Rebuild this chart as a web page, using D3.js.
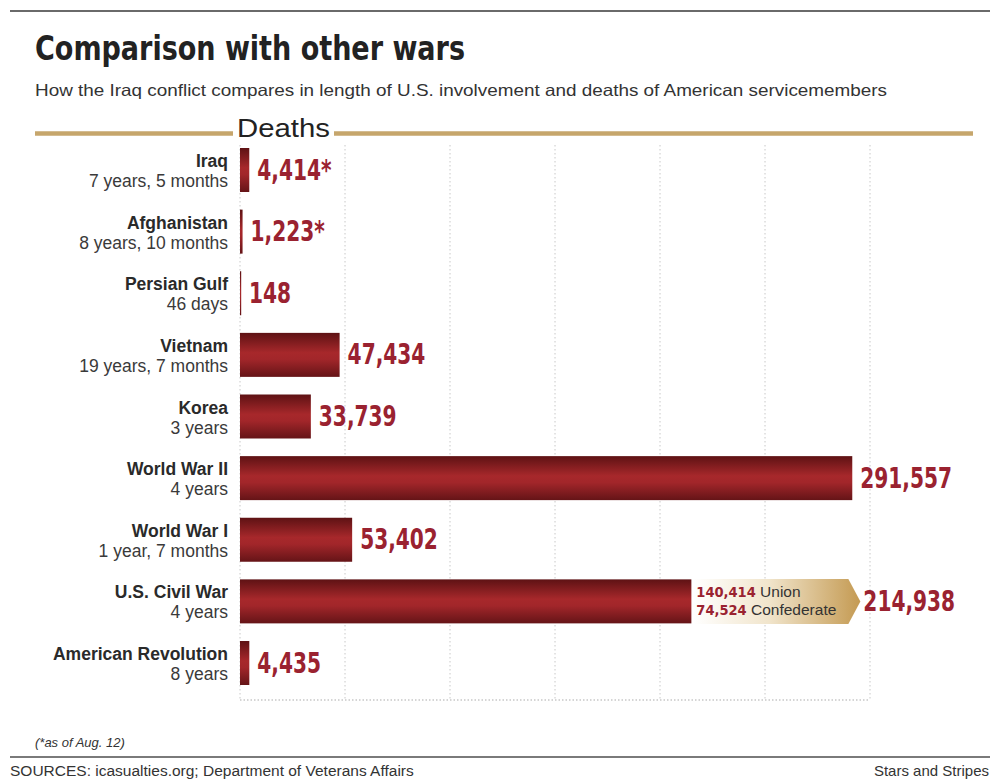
<!DOCTYPE html>
<html>
<head>
<meta charset="utf-8">
<script src="https://cdn.jsdelivr.net/npm/d3@7"></script>
<style>
  body { margin: 0; background: #fff; }
  svg { display: block; }
</style>
</head>
<body>
<svg id="chart" width="990" height="780"></svg>
<script>
const width = 990;
const height = 780;

const wars = ["Iraq", "Afghanistan", "Persian Gulf", "Vietnam", "Korea",
  "World War II", "World War I", "U.S. Civil War", "American Revolution"];
const durations = ["7 years, 5 months", "8 years, 10 months", "46 days", "19 years, 7 months",
  "3 years", "4 years", "1 year, 7 months", "4 years", "8 years"];
const deaths = [4414, 1223, 148, 47434, 33739, 291557, 53402, 214938, 4435];
const ongoing = [true, true, false, false, false, false, false, false, false];
const civilSides = ["Union", "Confederate"];
const civilDeaths = [140414, 74524];
const ticks = [0, 50000, 100000, 150000, 200000, 250000, 300000];

const rows = wars.map((w, i) => ({ war: w, dur: durations[i], deaths: deaths[i], star: ongoing[i] }));

const svg = d3.select("#chart");
const fmt = d3.format(",");
const narrow = "'DejaVu Sans Condensed', 'Liberation Sans Narrow', sans-serif";
const sans = "'Liberation Sans', Arial, sans-serif";
const red = "#9a2230";
const squeeze = 0.8; // horizontal squeeze for the condensed figures

const xScale = d3.scaleLinear().domain([0, 300000]).range([240, 870]);
const yScale = d3.scalePoint().domain(wars).range([170, 663]);
const barH = 44;

// gradients
const defs = svg.append("defs");
const grad = defs.append("linearGradient").attr("id", "barGrad")
  .attr("x1", 0).attr("y1", 0).attr("x2", 0).attr("y2", 1);
grad.append("stop").attr("offset", "0%").attr("stop-color", "#5e1214");
grad.append("stop").attr("offset", "45%").attr("stop-color", "#a7282b");
grad.append("stop").attr("offset", "60%").attr("stop-color", "#a2262a");
grad.append("stop").attr("offset", "100%").attr("stop-color", "#651417");

const gold = defs.append("linearGradient").attr("id", "goldGrad")
  .attr("x1", 0).attr("y1", 0).attr("x2", 1).attr("y2", 0);
gold.append("stop").attr("offset", "0%").attr("stop-color", "#ffffff");
gold.append("stop").attr("offset", "45%").attr("stop-color", "#f1e5cc");
gold.append("stop").attr("offset", "100%").attr("stop-color", "#c49a52");

// frame lines
svg.append("line").attr("x1", 10).attr("x2", 990).attr("y1", 11).attr("y2", 11)
  .attr("stroke", "#6a6a6a").attr("stroke-width", 2);
svg.append("line").attr("x1", 10).attr("x2", 990).attr("y1", 757).attr("y2", 757)
  .attr("stroke", "#7a7a7a").attr("stroke-width", 2);

// Title
svg.append("text").attr("x", 35).attr("y", 60)
  .attr("font-family", narrow).attr("font-weight", "bold").attr("font-size", 33)
  .attr("fill", "#222").attr("textLength", 430).attr("lengthAdjust", "spacingAndGlyphs")
  .text("Comparison with other wars");

svg.append("text").attr("x", 35).attr("y", 96)
  .attr("font-family", sans).attr("font-size", 16.5).attr("fill", "#333")
  .attr("textLength", 852).attr("lengthAdjust", "spacingAndGlyphs")
  .text("How the Iraq conflict compares in length of U.S. involvement and deaths of American servicemembers");

// Deaths header with gold rule
svg.append("line").attr("x1", 35).attr("x2", 233).attr("y1", 133.5).attr("y2", 133.5)
  .attr("stroke", "#c6a66c").attr("stroke-width", 4.5);
svg.append("line").attr("x1", 334).attr("x2", 973).attr("y1", 133.5).attr("y2", 133.5)
  .attr("stroke", "#c6a66c").attr("stroke-width", 4.5);
svg.append("text").attr("x", 237).attr("y", 137)
  .attr("font-family", sans).attr("font-size", 25).attr("fill", "#222")
  .attr("textLength", 93).attr("lengthAdjust", "spacingAndGlyphs")
  .text("Deaths");

// Grid
const grid = svg.append("g").attr("class", "grid");
grid.selectAll("line.v")
  .data(ticks)
  .enter()
  .append("line")
  .attr("class", "v")
  .attr("x1", d => xScale(d)).attr("x2", d => xScale(d))
  .attr("y1", 145).attr("y2", 700)
  .attr("stroke", "#c8c8c8").attr("stroke-width", 1).attr("stroke-dasharray", "1.5,2.5");
grid.append("line")
  .attr("x1", xScale(0)).attr("x2", xScale(300000))
  .attr("y1", 700).attr("y2", 700)
  .attr("stroke", "#c8c8c8").attr("stroke-width", 1.5).attr("stroke-dasharray", "1.5,2");

// Category labels
const labels = svg.append("g");
labels.selectAll("text.name")
  .data(rows)
  .enter()
  .append("text")
  .attr("class", "name")
  .attr("x", 228).attr("y", d => yScale(d.war) - 3)
  .attr("text-anchor", "end")
  .attr("font-family", sans).attr("font-weight", "bold").attr("font-size", 17.5)
  .attr("fill", "#2a2a2a")
  .text(d => d.war);
labels.selectAll("text.dur")
  .data(rows)
  .enter()
  .append("text")
  .attr("class", "dur")
  .attr("x", 228).attr("y", d => yScale(d.war) + 17)
  .attr("text-anchor", "end")
  .attr("font-family", sans).attr("font-size", 17.5)
  .attr("fill", "#3a3a3a")
  .text(d => d.dur);

// Bars
svg.selectAll(".bar")
  .data(rows)
  .enter()
  .append("rect")
  .attr("class", "bar")
  .attr("x", xScale(0))
  .attr("y", d => yScale(d.war) - barH / 2)
  .attr("width", d => Math.max(1.2, xScale(d.deaths) - xScale(0)))
  .attr("height", barH)
  .attr("fill", "url(#barGrad)");

// Civil war split callout
const civil = rows.find(d => d.war === "U.S. Civil War");
const cx0 = xScale(civil.deaths) + 2;
const cy = yScale(civil.war);
const calloutW = 155, tipW = 12, calloutH = 45;
svg.append("path")
  .attr("d", `M${cx0},${cy - calloutH / 2} L${cx0 + calloutW},${cy - calloutH / 2} L${cx0 + calloutW + tipW},${cy} L${cx0 + calloutW},${cy + calloutH / 2} L${cx0},${cy + calloutH / 2} Z`)
  .attr("fill", "url(#goldGrad)");
civilSides.forEach((s, i) => {
  const t = svg.append("text")
    .attr("x", cx0 + 3).attr("y", cy - 4 + i * 18)
    .attr("font-family", sans).attr("font-size", 15.5);
  t.append("tspan").attr("fill", red).attr("font-family", narrow).attr("font-weight", "bold")
    .attr("font-size", 14.5).text(fmt(civilDeaths[i]));
  t.append("tspan").attr("fill", "#333").text(" " + s);
});

// Value labels
svg.selectAll(".value")
  .data(rows)
  .enter()
  .append("text")
  .attr("class", "value")
  .attr("transform", d => {
    const x = d.war === "U.S. Civil War"
      ? cx0 + calloutW + tipW + 3
      : Math.max(xScale(d.deaths), xScale(0) + 1) + 8;
    return `translate(${x},${yScale(d.war) + 9.5}) scale(${squeeze},1)`;
  })
  .attr("font-family", narrow).attr("font-weight", "bold").attr("font-size", 28)
  .attr("fill", red)
  .text(d => fmt(d.deaths) + (d.star ? "*" : ""));

// Footer
svg.append("text").attr("x", 35).attr("y", 747)
  .attr("font-family", sans).attr("font-style", "italic").attr("font-size", 13)
  .attr("fill", "#333")
  .text("(*as of Aug. 12)");
svg.append("text").attr("x", 10).attr("y", 776)
  .attr("font-family", sans).attr("font-size", 15.5).attr("fill", "#333")
  .text("SOURCES: icasualties.org; Department of Veterans Affairs");
svg.append("text").attr("x", 989).attr("y", 776).attr("text-anchor", "end")
  .attr("font-family", sans).attr("font-size", 15).attr("fill", "#333")
  .text("Stars and Stripes");
</script>
</body>
</html>
